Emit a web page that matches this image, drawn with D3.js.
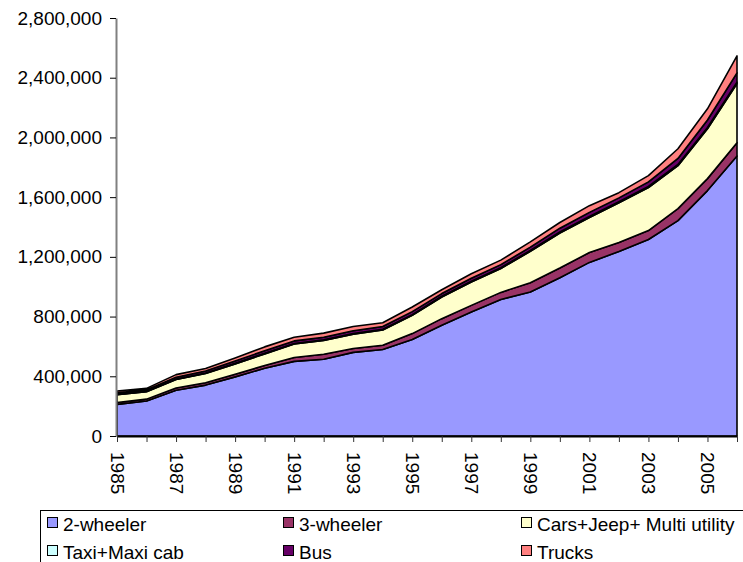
<!DOCTYPE html>
<html>
<head>
<meta charset="utf-8">
<script src="https://cdn.jsdelivr.net/npm/d3@7"></script>
<style>
  body { margin: 0; background: #fff; }
  text { font-family: "Liberation Sans", Arial, sans-serif; fill: #000; }
</style>
</head>
<body>
<svg width="743" height="562"></svg>
<script>
// values (vehicles)
var years = [1985, 1986, 1987, 1988, 1989, 1990, 1991, 1992, 1993, 1994, 1995,
             1996, 1997, 1998, 1999, 2000, 2001, 2002, 2003, 2004, 2005, 2006];
var twoWheeler = [212000, 234000, 307000, 341000, 396000, 454000, 500000, 514000, 560000, 579000, 646000,
                  742000, 831000, 915000, 965000, 1060000, 1163000, 1236000, 1316000, 1443000, 1644000, 1875000];
var threeWheeler = [12000, 13000, 15000, 16000, 17000, 18000, 26000, 34000, 26000, 29000, 40000,
                    44000, 44000, 47000, 62000, 65000, 66000, 60000, 60000, 80000, 80000, 90000];
var cars = [52000, 50000, 56000, 62000, 70000, 78000, 90000, 92000, 96000, 102000, 122000,
            145000, 156000, 160000, 210000, 235000, 234000, 267000, 288000, 288000, 334000, 395000];
var taxi = [3000, 3000, 3000, 3000, 4000, 4000, 4000, 4000, 5000, 5000, 5000,
            5000, 6000, 6000, 6000, 7000, 7000, 7000, 8000, 8000, 9000, 10000];
var bus = [10000, 9000, 13000, 13000, 15000, 17000, 17000, 18000, 18000, 18000, 20000,
           18000, 20000, 20000, 22000, 25000, 28000, 25000, 30000, 40000, 50000, 62000];
var trucks = [12000, 10000, 17000, 17000, 21000, 26000, 24000, 27000, 28000, 26000, 31000,
              26000, 30000, 30000, 35000, 38000, 45000, 35000, 42000, 65000, 75000, 114000];
var seriesNames = ["2-wheeler", "3-wheeler", "Cars+Jeep+ Multi utility", "Taxi+Maxi cab", "Bus", "Trucks"];
var seriesColors = ["#9999FF", "#993366", "#FFFFCC", "#CCFFFF", "#660066", "#FF8080"];
var yTicks = [0, 400000, 800000, 1200000, 1600000, 2000000, 2400000, 2800000];
var yearLabels = [1985, 1987, 1989, 1991, 1993, 1995, 1997, 1999, 2001, 2003, 2005];

var svg = d3.select("svg");
var columns = [twoWheeler, threeWheeler, cars, taxi, bus, trucks];

var table = years.map(function (y, i) {
    var row = { year: y };
    seriesNames.forEach(function (n, k) { row[n] = columns[k][i]; });
    return row;
});

var x = d3.scaleLinear().domain([1985, 2006]).range([117, 737]);
var y = d3.scaleLinear().domain([0, 2800000]).range([436, 18]);

var stacked = d3.stack().keys(seriesNames)(table);

var area = d3.area()
    .x(function (d) { return x(d.data.year); })
    .y0(function (d) { return y(d[0]); })
    .y1(function (d) { return y(d[1]); });

svg.append("g")
    .selectAll("path")
    .data(stacked)
    .enter().append("path")
    .attr("d", area)
    .attr("fill", function (d, i) { return seriesColors[i]; })
    .attr("stroke", "#000")
    .attr("stroke-width", 1.6)
    .attr("stroke-linejoin", "round");

// y axis
var yAxis = svg.append("g")
    .attr("transform", "translate(116,0)")
    .call(d3.axisLeft(y).tickValues(yTicks).tickSize(6).tickSizeOuter(0)
        .tickFormat(d3.format(",")));
yAxis.select(".domain").attr("stroke", "#808080").attr("stroke-width", 2);
yAxis.selectAll(".tick line").attr("stroke", "#000");
yAxis.selectAll(".tick text")
    .attr("x", -14)
    .style("font-size", "19px")
    .style("font-family", "Liberation Sans, Arial, sans-serif");

// x axis
var xAxis = svg.append("g")
    .attr("transform", "translate(0,436)")
    .call(d3.axisBottom(x).tickValues(years).tickSize(6).tickSizeOuter(0)
        .tickFormat(function (d) { return yearLabels.indexOf(d) >= 0 ? d : ""; }));
xAxis.select(".domain").attr("stroke", "#000").attr("stroke-width", 2);
xAxis.selectAll(".tick line").attr("stroke", "#333");
xAxis.selectAll(".tick text")
    .attr("transform", "rotate(90)")
    .attr("x", 16)
    .attr("y", 0)
    .attr("dy", "0.35em")
    .attr("text-anchor", "start")
    .style("font-size", "19px")
    .style("font-family", "Liberation Sans, Arial, sans-serif");

// legend
var legend = svg.append("g");
legend.append("rect")
    .attr("x", 40.5).attr("y", 510.5)
    .attr("width", 720).attr("height", 60)
    .attr("fill", "#fff").attr("stroke", "#000").attr("stroke-width", 1);

var colX = [47, 283, 521];
var rowY = [517, 545];
seriesNames.forEach(function (n, i) {
    var cx = colX[i % 3], cy = rowY[Math.floor(i / 3)];
    legend.append("rect")
        .attr("x", cx + 0.5).attr("y", cy + 0.5)
        .attr("width", 10).attr("height", 10)
        .attr("fill", seriesColors[i]).attr("stroke", "#000");
    legend.append("text")
        .attr("x", cx + 16).attr("y", cy + 14)
        .style("font-size", "19px")
        .text(n);
});
</script>
</body>
</html>
